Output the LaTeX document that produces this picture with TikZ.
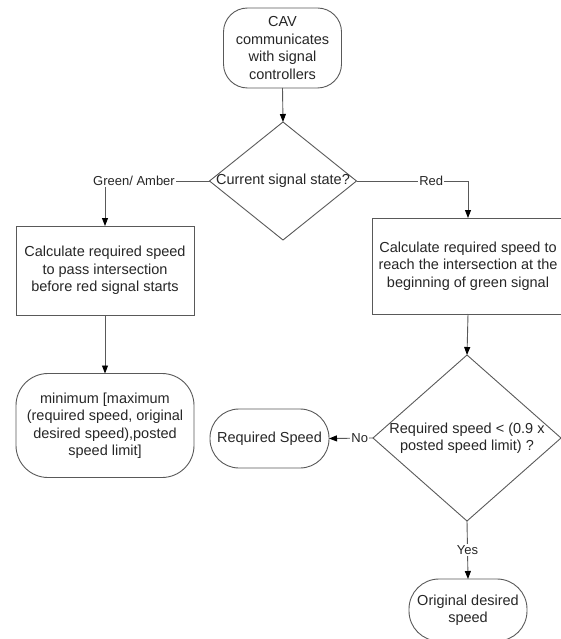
\documentclass[tikz,border=0pt]{standalone}
\usepackage{fontspec}
\setmainfont{Liberation Sans}
\usetikzlibrary{shapes.geometric,arrows.meta,positioning}

\begin{document}
\begin{tikzpicture}[x=1pt,y=-1pt,
  every node/.style={font=\fontsize{14.5}{17.5}\selectfont, text=black!85},
  terminal/.style={draw=black!65, line width=0.9pt, rounded corners=#1, align=center, inner sep=0pt, outer sep=0pt},
  terminal/.default=25pt,
  process/.style={draw=black!65, line width=0.9pt, align=center, inner sep=0pt, outer sep=0pt},
  decision/.style={draw=black!65, line width=0.9pt, diamond, inner sep=0pt, outer sep=0pt},
  edgetext/.style={font=\fontsize{13}{15}\selectfont, inner sep=1pt, fill=white},
  plain/.style={draw=black!65, line width=0.9pt},
  flow/.style={plain, -{Triangle[length=8pt,width=6pt,color=black]}}]
\useasboundingbox (0,0) rectangle (561,639);

\node[terminal=24pt, minimum width=118pt, minimum height=80pt] (cav) at (282.5,48) {CAV\\communicates\\with signal\\controllers};
\node[decision, minimum width=147pt, minimum height=118pt, label={center:Current signal state?}] (state) at (283,181) {};
\node[edgetext] (ga) at (134,181) {Green/ Amber};
\node[process, minimum width=178pt, minimum height=89pt] (calcgreen) at (105,270.5) {Calculate required speed\\to pass intersection\\before red signal starts};
\node[process, minimum width=192pt, minimum height=96pt] (calcred) at (468,266) {Calculate required speed to\\reach the intersection at the\\beginning of green signal};
\node[terminal=32pt, minimum width=178pt, minimum height=104pt] (minterm) at (105,425.5) {minimum [maximum\\(required speed, original\\desired speed),posted\\speed limit]};
\node[decision, minimum width=188pt, minimum height=166pt, label={[align=center]center:Required speed < (0.9 x\\posted speed limit) ?}] (check) at (467,438) {};
\node[terminal=29pt, minimum width=119pt, minimum height=59pt] (reqspeed) at (269.5,438.5) {Required Speed};
\node[terminal=30pt, minimum width=118pt, minimum height=62pt] (orig) at (468,610) {Original desired\\speed};

\draw[flow] (cav.south) -- (state.north);
\draw[plain] (state.west) -- (ga.east);
\draw[flow] (ga.south -| calcgreen.north) -- (calcgreen.north);
\draw[flow] (state.east) -| node[pos=0.335, edgetext] {Red} (calcred.north);
\draw[flow] (calcgreen.south) -- (minterm.north);
\draw[flow] (calcred.south) -- (check.north);
\draw[flow] (check.west) -- node[pos=0.3, edgetext] {No} (reqspeed.east);
\draw[flow] (check.south) -- node[edgetext] {Yes} (orig.north);
\end{tikzpicture}
\end{document}
